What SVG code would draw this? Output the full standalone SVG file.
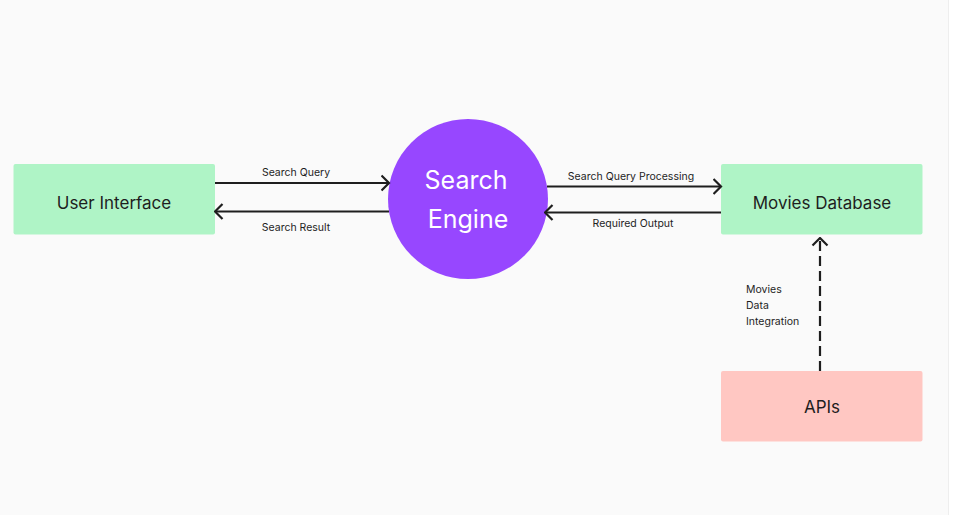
<svg xmlns="http://www.w3.org/2000/svg" width="960" height="515" viewBox="0 0 960 515">
<defs>
<style>
.bg{fill:#fafafa}
.node-green{fill:#aff4c6}
.node-red{fill:#ffc7c2}
.title{font-family:Inter,"Liberation Sans",sans-serif;font-size:17px;fill:#1e1e1e;text-anchor:middle}
.circ{font-family:Inter,"Liberation Sans",sans-serif;font-size:25px;fill:#ffffff;text-anchor:middle}
.lbl{font-family:Inter,"Liberation Sans",sans-serif;font-size:10.5px;fill:#1e1e1e}
.mid{text-anchor:middle}
.conn{stroke:#1e1e1e;stroke-width:2.2;fill:none}
.dash{stroke-dasharray:10 5}
</style>
<marker id="ah" viewBox="0 0 10 18" refX="8.5" refY="9" markerWidth="10" markerHeight="18" markerUnits="userSpaceOnUse" orient="auto">
<path d="M1,1.5 L8.5,9 L1,16.5" fill="none" stroke="#1e1e1e" stroke-width="2.2"/>
</marker>
</defs>
<rect x="0" y="0" width="960" height="515" fill="#ffffff"/>
<rect class="bg" x="0" y="0" width="948" height="515"/>
<line x1="948.5" y1="0" x2="948.5" y2="515" stroke="#eeeeee" stroke-width="1"/>

<g id="user-interface">
<rect class="node-green" x="13.5" y="164" width="201.5" height="70.5" rx="2"/>
<text class="title" x="114" y="209">User Interface</text>
</g>
<g id="search-engine">
<circle cx="468" cy="199" r="80" fill="#9747ff"/>
<text class="circ" x="466" y="189">Search</text>
<text class="circ" x="468" y="228">Engine</text>
</g>
<g id="movies-database">
<rect class="node-green" x="721" y="164" width="201.5" height="70.5" rx="2"/>
<text class="title" x="822" y="209">Movies Database</text>
</g>
<g id="apis">
<rect class="node-red" x="721" y="371" width="201.5" height="70.5" rx="2"/>
<text class="title" x="822" y="413">APIs</text>
</g>

<g id="connectors">
<line class="conn" x1="215" y1="183" x2="389" y2="183" marker-end="url(#ah)"/>
<line class="conn" x1="389" y1="211.5" x2="215" y2="211.5" marker-end="url(#ah)"/>
<line class="conn" x1="547" y1="186.5" x2="721" y2="186.5" marker-end="url(#ah)"/>
<line class="conn" x1="721" y1="212.5" x2="545" y2="212.5" marker-end="url(#ah)"/>
<line class="conn dash" x1="820" y1="371" x2="820" y2="238" marker-end="url(#ah)"/>
<text class="lbl mid" x="296" y="176">Search Query</text>
<text class="lbl mid" x="296" y="231">Search Result</text>
<text class="lbl mid" x="631" y="180">Search Query Processing</text>
<text class="lbl mid" x="633" y="227">Required Output</text>
<text class="lbl" x="746" y="293">Movies</text>
<text class="lbl" x="746" y="309">Data</text>
<text class="lbl" x="746" y="325">Integration</text>
</g>
</svg>
